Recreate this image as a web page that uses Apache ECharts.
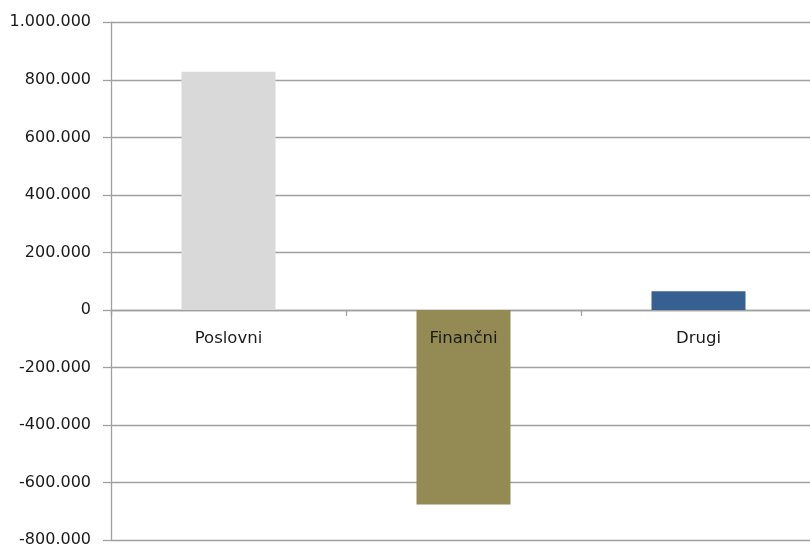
<!DOCTYPE html>
<html>
<head>
<meta charset="utf-8">
<script src="https://cdn.jsdelivr.net/npm/echarts@6/dist/echarts.min.js"></script>
<style>
html,body{margin:0;padding:0;background:#fff;}
#c{width:810px;height:549px;}
</style>
</head>
<body>
<div id="c"></div>
<script>
const categories = ['Poslovni', 'Finančni', 'Drugi'];
const values = [828000, -677000, 65000];
const barColors = ['#D9D9D9', '#948A54', '#376092'];
const yMin = -800000, yMax = 1000000, yStep = 200000;

function fmt(v) {
  const neg = v < 0;
  const s = Math.abs(v).toString().replace(/\B(?=(\d{3})+(?!\d))/g, '.');
  return (neg ? '-' : '') + s;
}

const chart = echarts.init(document.getElementById('c'));
chart.setOption({
  animation: false,
  grid: { left: 111, right: -6, top: 22.3, bottom: 9, containLabel: false, outerBoundsMode: 'none' },
  xAxis: {
    type: 'category',
    data: categories,
    axisLine: { onZero: true, lineStyle: { color: '#a0a0a0', width: 1.3 } },
    axisTick: { show: true, length: 6, lineStyle: { color: '#a0a0a0', width: 1.3 } },
    axisLabel: { show: false }
  },
  yAxis: {
    type: 'value',
    min: yMin, max: yMax, interval: yStep,
    axisLine: { show: true, lineStyle: { color: '#a0a0a0', width: 1.3 } },
    axisTick: { show: true, length: 8, lineStyle: { color: '#a0a0a0', width: 1.3 } },
    splitLine: { show: true, lineStyle: { color: '#a0a0a0', width: 1.3 } },
    axisLabel: { color: '#1a1a1a', fontFamily: 'DejaVu Sans', fontSize: 16, margin: 20, formatter: fmt }
  },
  series: [{
    type: 'bar',
    barWidth: '40%',
    z: 2,
    data: values.map((v, i) => ({ value: v, itemStyle: { color: barColors[i] } }))
  }, {
    type: 'scatter',
    z: 10,
    symbolSize: 0,
    silent: true,
    itemStyle: { opacity: 1 },
    data: categories.map(c => [c, 0]),
    label: {
      show: true,
      position: 'bottom',
      distance: 20,
      formatter: p => p.data[0],
      color: '#1a1a1a',
      fontFamily: 'DejaVu Sans',
      fontSize: 16.5
    }
  }]
});
</script>
</body>
</html>
